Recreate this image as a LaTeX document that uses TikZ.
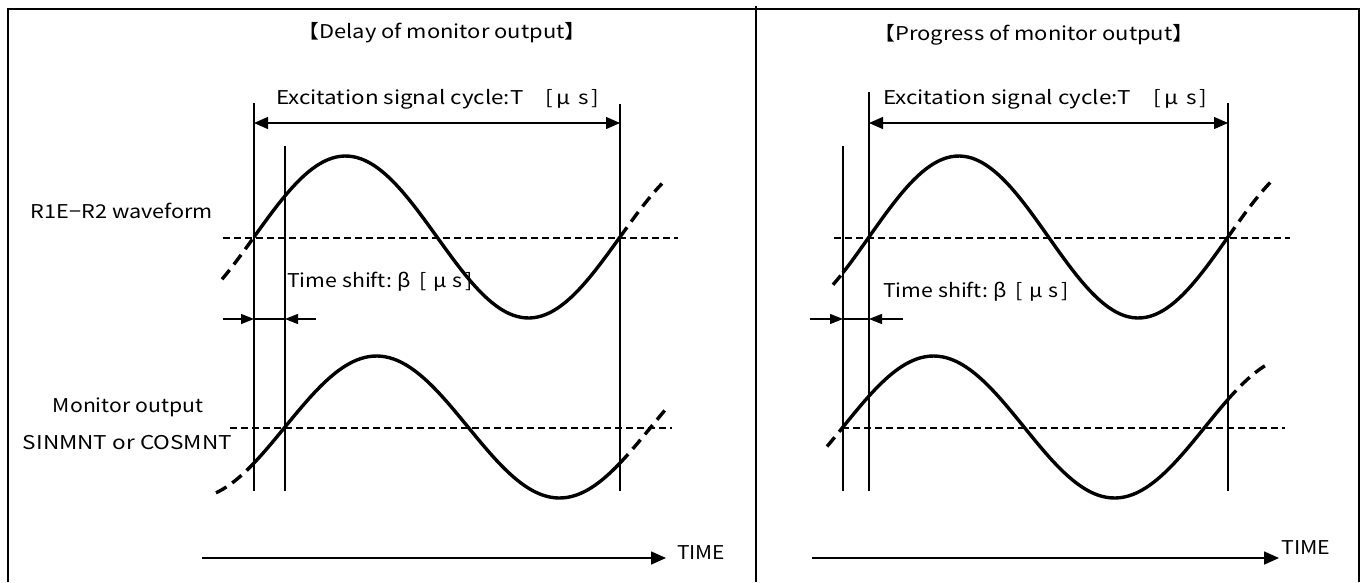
\documentclass[tikz,border=0pt]{standalone}
\usepackage{fontspec}
\setmainfont{Noto Sans CJK JP}
\usetikzlibrary{arrows.meta}
% stretch a label horizontally to the width it has in the drawing
\newcommand{\fitw}[2]{\resizebox{#1}{\height}{#2}}

\begin{document}
\begin{tikzpicture}[x=1pt, y=-1pt,
    wave/.style={line width=3.4pt},
    wavedash/.style={line width=3.4pt, dash pattern=on 12pt off 7pt},
    guide/.style={line width=1.2pt},
    zeroline/.style={line width=1.2pt, dash pattern=on 7pt off 4pt},
    dimarrow/.style={line width=1.3pt, {Triangle[length=14pt,width=12pt]}-{Triangle[length=14pt,width=12pt]}},
    shiftarrow/.style={line width=1.3pt, -{Triangle[length=13pt,width=10pt]}},
    timeaxis/.style={line width=1.6pt, -{Triangle[length=15pt,width=13pt]}},
    lbl/.style={font=\fontsize{19}{22}\selectfont, inner sep=0pt}
]
    \useasboundingbox (0,0) rectangle (1362,582);

    % frame and divider
    \draw[line width=2pt] (8,582) -- (8,9) -- (1359,9) -- (1359,582);
    \draw[line width=1.5pt] (756,6) -- (756,582);

    % ---- left panel: delay
    \node[lbl] (titleL) at (442,33) {\fitw{289pt}{【Delay of monitor output】}};
    \node[lbl] (cycL) at (437.5,99) {\fitw{323pt}{Excitation signal cycle:T\hspace{1em}[\hspace{0.15em}μ\hspace{0.35em}s\hspace{0.1em}]}};
    \node[lbl] (wavL) at (122,211) {\fitw{182pt}{R1E−R2 waveform}};
    \node[lbl] (monL) at (128,407) {\fitw{150pt}{Monitor output}};
    \node[lbl] (sinL) at (127.5,443) {\fitw{209pt}{SINMNT or COSMNT}};
    \node[lbl, anchor=west] (betaL) at (287,282) {\fitw{185pt}{Time shift:\hspace{0.25em}β\hspace{0.4em}[\hspace{0.3em}μ\hspace{0.3em}s\hspace{0.1em}]}};

    \draw[guide] (254,103) -- (254,491);
    \draw[guide] (285,146) -- (285,491);
    \draw[guide] (620,104) -- (620,491);
    \draw[zeroline] (223,238) -- (678,238);
    \draw[zeroline] (230,428) -- (672,428);

    \draw[wave] plot[domain=254:620, samples=90, smooth] (\x, {237-81*sin((\x-254)/366*360)});
    \draw[wavedash] plot[domain=222:254, samples=12, smooth] (\x, {237-81*sin((\x-254)/366*360)});
    \draw[wavedash] plot[domain=620:662, samples=12, smooth] (\x, {237-81*sin((\x-254)/366*360)});
    \draw[wave] plot[domain=254:620, samples=90, smooth] (\x, {427-71*sin((\x-285)/366*360)});
    \draw[wavedash] plot[domain=216:254, samples=12, smooth] (\x, {427-71*sin((\x-285)/366*360)});
    \draw[wavedash] plot[domain=620:668, samples=12, smooth] (\x, {427-71*sin((\x-285)/366*360)});

    \coordinate (tL1) at (254,123);
    \coordinate (tL2) at (620,123);
    \draw[dimarrow] (tL1) -- (tL2);

    \coordinate (bL0) at (223,319);
    \coordinate (bL1) at (254,319);
    \coordinate (bL2) at (285,319);
    \coordinate (bL3) at (316,319);
    \draw[shiftarrow] (bL0) -- (bL1);
    \draw[guide] (bL1) -- (bL2);
    \draw[shiftarrow] (bL3) -- (bL2);

    \coordinate (axL0) at (202,558);
    \coordinate (axL1) at (666,558);
    \draw[timeaxis] (axL0) -- (axL1);
    \node[lbl, anchor=west] (timeL) at (677,553) {\fitw{48pt}{TIME}};

    % ---- right panel: progress
    \node[lbl] (titleR) at (1034,35) {\fitw{321pt}{【Progress of monitor output】}};
    \node[lbl] (cycR) at (1045,99) {\fitw{324pt}{Excitation signal cycle:T\hspace{1em}[\hspace{0.15em}μ\hspace{0.35em}s\hspace{0.1em}]}};
    \node[lbl, anchor=west] (betaR) at (883,292) {\fitw{185pt}{Time shift:\hspace{0.25em}β\hspace{0.4em}[\hspace{0.3em}μ\hspace{0.3em}s\hspace{0.1em}]}};

    \draw[guide] (843,146) -- (843,491);
    \draw[guide] (869,92) -- (869,491);
    \draw[guide] (1228,103) -- (1228,491);
    \draw[zeroline] (834,238) -- (1290,238);
    \draw[zeroline] (842,428) -- (1285,428);

    \draw[wave] plot[domain=843:1228, samples=90, smooth] (\x, {237-81*sin((\x-869)/359*360)});
    \draw[wavedash] plot[domain=833:843, samples=4] (\x, {237-81*sin((\x-869)/359*360)});
    \draw[wavedash] plot[domain=1228:1273, samples=12, smooth] (\x, {237-81*sin((\x-869)/359*360)});
    \draw[wave] plot[domain=843:1228, samples=90, smooth] (\x, {427-71*sin((\x-843)/362*360)});
    \draw[wavedash] plot[domain=827:843, samples=6, smooth] (\x, {427-71*sin((\x-843)/362*360)});
    \draw[wavedash] plot[domain=1228:1266, samples=12, smooth] (\x, {427-71*sin((\x-843)/362*360)});

    \coordinate (tR1) at (869,123);
    \coordinate (tR2) at (1228,123);
    \draw[dimarrow] (tR1) -- (tR2);

    \coordinate (bR0) at (810,319);
    \coordinate (bR1) at (843,319);
    \coordinate (bR2) at (869,319);
    \coordinate (bR3) at (903,319);
    \draw[shiftarrow] (bR0) -- (bR1);
    \draw[guide] (bR1) -- (bR2);
    \draw[shiftarrow] (bR3) -- (bR2);

    \coordinate (axR0) at (812,558);
    \coordinate (axR1) at (1279,558);
    \draw[timeaxis] (axR0) -- (axR1);
    \node[lbl, anchor=west] (timeR) at (1281,548) {\fitw{49pt}{TIME}};
\end{tikzpicture}
\end{document}
